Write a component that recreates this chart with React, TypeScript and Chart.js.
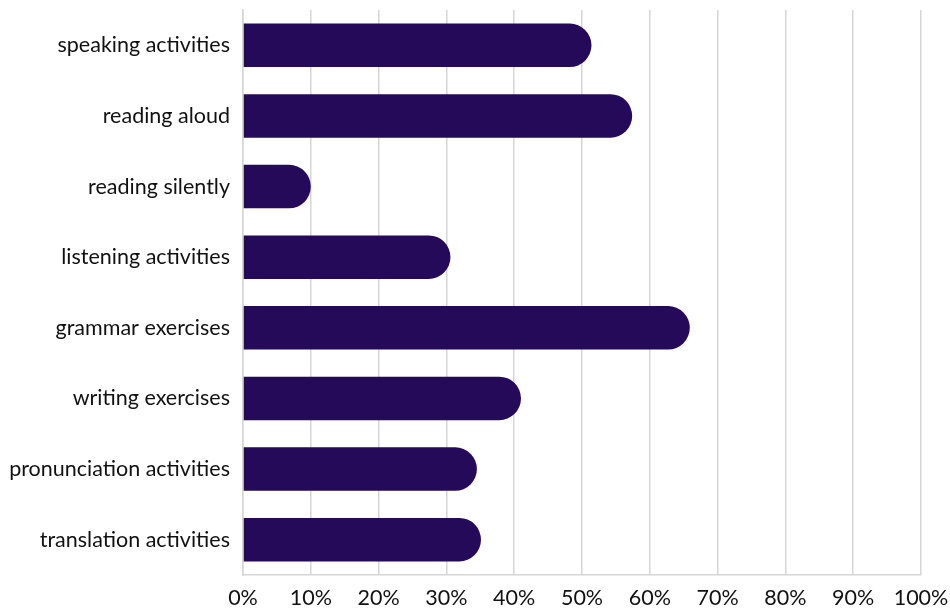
import React, { useEffect, useRef } from "react";
import { Chart, registerables } from "chart.js";

Chart.register(...registerables);

const categories = [
  "speaking activities",
  "reading aloud",
  "reading silently",
  "listening activities",
  "grammar exercises",
  "writing exercises",
  "pronunciation activities",
  "translation activities",
];
const values = [51.4, 57.4, 10.0, 30.6, 65.9, 41.0, 34.5, 35.1];
const xTicks = [0, 10, 20, 30, 40, 50, 60, 70, 80, 90, 100];

const BAR_COLOR = "#240a58";
const GRID_COLOR = "#d6d6d6";
const FONT = "Lato, 'Noto Sans', sans-serif";

export default function App() {
  const ref = useRef<HTMLCanvasElement | null>(null);
  useEffect(() => {
    document.body.style.margin = "0";
    const ctx = ref.current!;
    const chart = new Chart(ctx, {
      type: "bar",
      data: {
        labels: categories,
        datasets: [
          {
            data: values,
            backgroundColor: BAR_COLOR,
            borderRadius: 30,
            borderSkipped: "start",
            barPercentage: 0.615,
            categoryPercentage: 1,
          },
        ],
      },
      options: {
        indexAxis: "y",
        animation: false,
        responsive: false,
        maintainAspectRatio: false,
        layout: { padding: { top: 10, right: 29, bottom: 0, left: 0 } },
        plugins: { legend: { display: false }, tooltip: { enabled: false } },
        scales: {
          x: {
            min: 0,
            max: 100,
            afterBuildTicks: (scale: any) => {
              scale.ticks = xTicks.map((v) => ({ value: v }));
            },
            afterFit: (scale: any) => {
              scale.height = 33;
              scale.paddingLeft = 0;
              scale.paddingRight = 0;
            },
            grid: { color: GRID_COLOR, lineWidth: 1.5, drawTicks: false },
            border: { display: true, color: GRID_COLOR, width: 1.5 },
            ticks: {
              padding: 10,
              color: "#111",
              font: { family: FONT, size: 21.5 },
              maxRotation: 0,
              callback: (v: any) => v + "%",
            },
          },
          y: {
            afterFit: (scale: any) => {
              scale.width = 243;
              scale.paddingTop = 0;
              scale.paddingBottom = 0;
            },
            grid: { display: false, drawTicks: false },
            border: { display: true, color: GRID_COLOR, width: 1.5 },
            ticks: {
              padding: 13,
              color: "#111",
              font: { family: FONT, size: 21.5 },
            },
          },
        },
      },
    });
    return () => chart.destroy();
  }, []);
  return (
    <div style={{ position: "absolute", left: 0, top: 0, width: 950, height: 608 }}>
      <canvas ref={ref} width={950} height={608} style={{ width: 950, height: 608 }} />
    </div>
  );
}
